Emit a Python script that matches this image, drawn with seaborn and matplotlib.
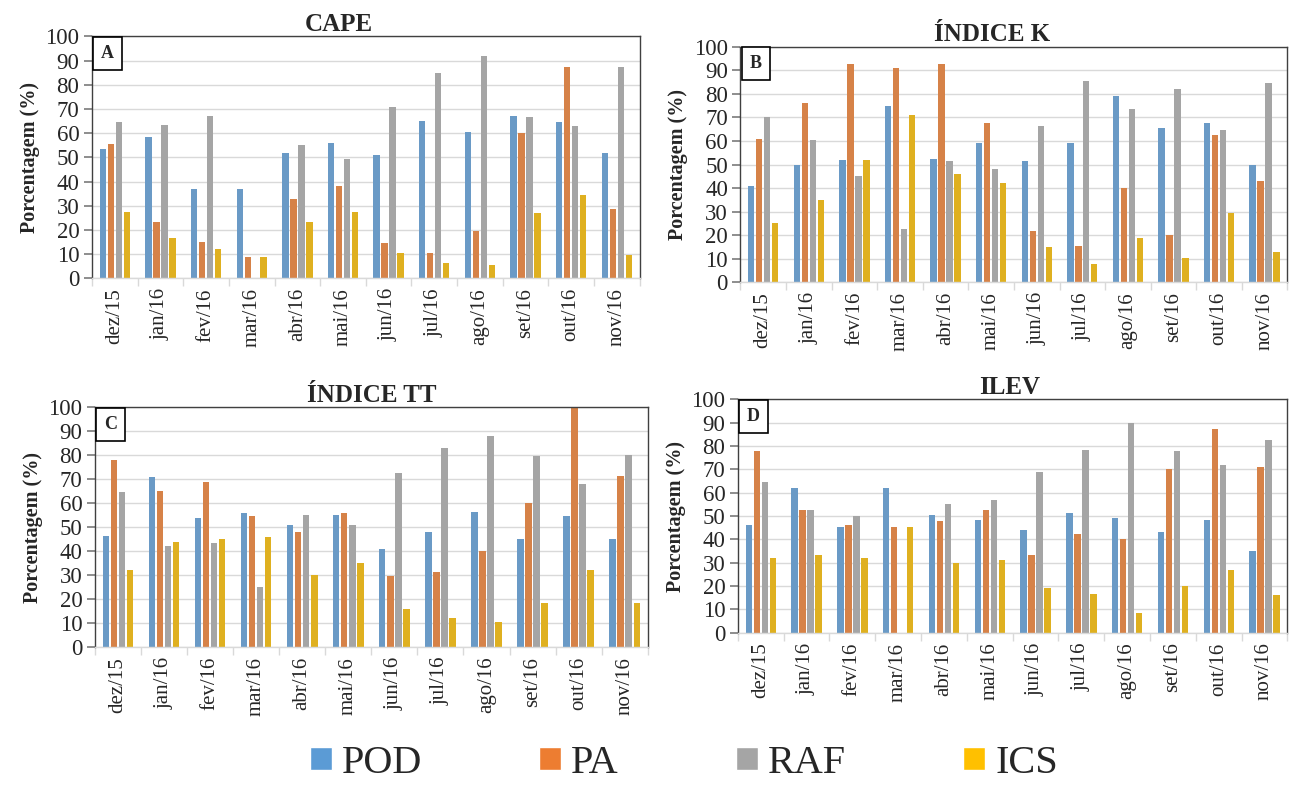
import seaborn as sns
import matplotlib.pyplot as plt
import pandas as pd
from matplotlib.patches import Patch

sns.set_theme(style="white")
plt.rcParams['font.family'] = ['Liberation Serif', 'DejaVu Serif']

# Meses e métricas
meses = ["dez/15", "jan/16", "fev/16", "mar/16", "abr/16", "mai/16",
         "jun/16", "jul/16", "ago/16", "set/16", "out/16", "nov/16"]
metricas = ["POD", "PA", "RAF", "ICS"]
cores = ["#5B9BD5", "#ED7D31", "#A5A5A5", "#FFC000"]

# CAPE
cape_pod = [53.5, 58.5, 37, 37, 52, 56, 51, 65, 60.5, 67, 64.5, 52]
cape_pa = [55.5, 23.5, 15, 9, 33, 38, 14.5, 10.5, 19.5, 60, 87.5, 28.5]
cape_raf = [64.5, 63.5, 67, 0, 55, 49.5, 71, 85, 92, 66.5, 63, 87.5]
cape_ics = [27.5, 16.5, 12, 9, 23.5, 27.5, 10.5, 6.5, 5.5, 27, 34.5, 9.5]

# Índice K
k_pod = [41, 50, 52, 75, 52.5, 59, 51.5, 59, 79, 65.5, 67.5, 50]
k_pa = [61, 76, 92.5, 91, 92.5, 67.5, 22, 15.5, 40, 20, 62.5, 43]
k_raf = [70, 60.5, 45, 22.5, 51.5, 48, 66.5, 85.5, 73.5, 82, 64.5, 84.5]
k_ics = [25, 35, 52, 71, 46, 42, 15, 8, 19, 10.5, 29.5, 13]

# Índice TT
tt_pod = [46.5, 71, 54, 56, 51, 55, 41, 48, 56.5, 45, 54.5, 45]
tt_pa = [78, 65, 69, 54.5, 48, 56, 29.5, 31.5, 40, 60, 100, 71.5]
tt_raf = [64.5, 42, 43.5, 25, 55, 51, 72.5, 83, 88, 79.5, 68, 80]
tt_ics = [32, 44, 45, 46, 30, 35, 16, 12, 10.5, 18.5, 32, 18.5]

# ILEV
ilev_pod = [46, 62, 45.5, 62, 50.5, 48.5, 44, 51.5, 49, 43, 48.5, 35]
ilev_pa = [78, 52.5, 46, 45.5, 48, 52.5, 33.5, 42.5, 40, 70, 87.5, 71]
ilev_raf = [64.5, 52.5, 50, 0, 55, 57, 69, 78.5, 90, 78, 72, 82.5]
ilev_ics = [32, 33.5, 32, 45.5, 30, 31, 19, 16.5, 8.5, 20, 27, 16]

paineis = [
    ("CAPE", "A", [cape_pod, cape_pa, cape_raf, cape_ics], 0.45),
    ("ÍNDICE K", "B", [k_pod, k_pa, k_raf, k_ics], 0.46),
    ("ÍNDICE TT", "C", [tt_pod, tt_pa, tt_raf, tt_ics], 0.50),
    ("ILEV", "D", [ilev_pod, ilev_pa, ilev_raf, ilev_ics], 0.495),
]

# posições dos painéis (fração da figura)
posicoes = [
    [0.0713, 0.648, 0.4245, 0.306],
    [0.5740, 0.643, 0.4240, 0.298],
    [0.0736, 0.182, 0.4285, 0.303],
    [0.5720, 0.200, 0.4260, 0.295],
]

fig = plt.figure(figsize=(12.9, 7.91), dpi=100)

for (titulo, letra, series, tx), pos in zip(paineis, posicoes):
    ax = fig.add_axes(pos)
    linhas = []
    for m, vals in zip(metricas, series):
        for mes, v in zip(meses, vals):
            linhas.append({"mes": mes, "metrica": m, "valor": v})
    df = pd.DataFrame(linhas)

    sns.barplot(data=df, x="mes", y="valor", hue="metrica",
                order=meses, hue_order=metricas, palette=cores,
                width=0.7, gap=0.2, linewidth=0, legend=False, ax=ax)

    ax.set_ylim(0, 100)
    ax.set_xlim(-0.5, 11.5)
    ax.set_yticks(range(0, 101, 10))
    ax.yaxis.grid(True, color="#D9D9D9", linewidth=1)
    ax.set_axisbelow(True)
    ax.set_xlabel("")
    ax.set_ylabel("Porcentagem (%)", fontsize=14.5, fontweight="bold",
                  labelpad=4)
    ax.tick_params(axis="y", labelsize=16.5, length=6, color="#808080",
                   direction="out", left=True, pad=3)
    ax.tick_params(axis="x", which="major", labelsize=15, length=0,
                   rotation=90, pad=7)
    ax.set_xticks([i + 0.5 for i in range(-1, 12)], minor=True)
    ax.tick_params(axis="x", which="minor", length=6, color="#D9D9D9",
                   direction="out", bottom=True)
    for s in ["top", "right", "left"]:
        ax.spines[s].set_color("#404040")
        ax.spines[s].set_linewidth(1)
    ax.spines["bottom"].set_color("#D9D9D9")
    ax.spines["bottom"].set_linewidth(1)
    ax.set_title(titulo, fontsize=18, fontweight="bold", x=tx, pad=4)
    ax.text(0.028, 0.928, letra, transform=ax.transAxes, fontsize=13,
            fontweight="bold", ha="center", va="center",
            bbox=dict(boxstyle="square,pad=0.45", fc="white", ec="black",
                      lw=1.2))

handles = [Patch(facecolor=c, label=m) for c, m in zip(cores, metricas)]
fig.legend(handles=handles, loc="center", bbox_to_anchor=(0.53, 0.035),
           ncol=4, frameon=False, fontsize=29, handlelength=0.55,
           handleheight=0.48, handletextpad=0.25, columnspacing=2.9)

fig.savefig("out.png", dpi=100)
